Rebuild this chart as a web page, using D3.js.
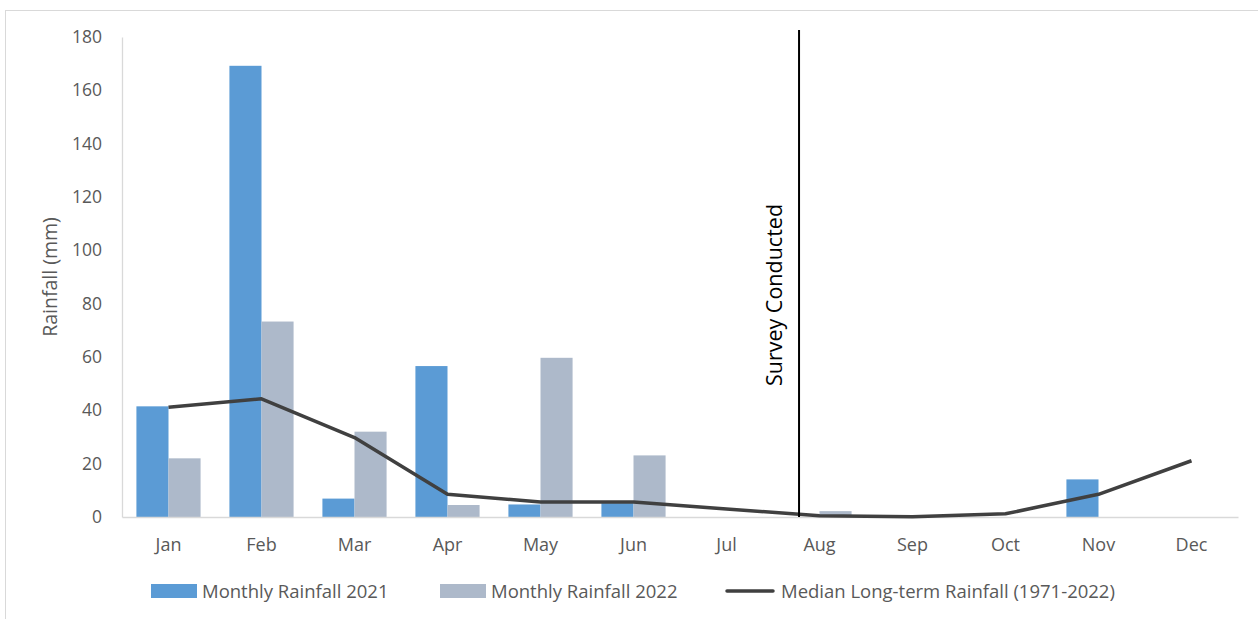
<!DOCTYPE html>
<html>
<head>
<meta charset="utf-8">
<script src="https://cdn.jsdelivr.net/npm/d3@7/dist/d3.min.js"></script>
<style>
  html, body { margin: 0; padding: 0; background: #fff; }
  svg { display: block; font-family: "Open Sans", "DejaVu Sans", sans-serif; }
</style>
</head>
<body>
<svg id="chart" width="1258" height="619"></svg>
<script>
const months = ["Jan","Feb","Mar","Apr","May","Jun","Jul","Aug","Sep","Oct","Nov","Dec"];
const rain2021 = [41.5, 169.2, 6.9, 56.6, 4.7, 5.2, 0, 0, 0, 0, 14.1, 0];
const rain2022 = [22.0, 73.3, 32.0, 4.5, 59.7, 23.1, 0, 2.2, 0, 0, 0, 0];
const medianLT = [41.2, 44.3, 29.8, 8.5, 5.6, 5.6, 3.0, 0.5, 0.1, 1.2, 8.5, 21.1];
const yTicks = [0, 20, 40, 60, 80, 100, 120, 140, 160, 180];
const seriesNames = ["Monthly Rainfall 2021", "Monthly Rainfall 2022", "Median Long-term Rainfall (1971-2022)"];
const surveyMonthPos = 7.78; // month index (Jan = 1) where survey line sits
const surveyLabel = "Survey Conducted";
const yTitle = "Rainfall (mm)";

const colors = { r21: "#5b9bd5", r22: "#adb9ca", med: "#404040" };
const textCol = "#595959";

const svg = d3.select("#chart");
const L = 122, R = 1238, T = 37, B = 517;

// outer chart border
svg.append("rect").attr("x", 5.5).attr("y", 10.5).attr("width", 1262).attr("height", 620)
  .attr("fill", "none").attr("stroke", "#d9d9d9").attr("stroke-width", 1);

const y = d3.scaleLinear().domain([0, 180]).range([B, T]);
const x0 = d3.scaleBand().domain(months).range([L, R]).paddingInner(0.31).paddingOuter(0.155);
const x1 = d3.scaleBand().domain(["r21", "r22"]).range([0, x0.bandwidth()]);
const xc = m => x0(m) + x0.bandwidth() / 2;
const xIdx = d3.scaleLinear().domain([0.5, 12.5]).range([L, R]);

// y axis
const yAxis = svg.append("g").attr("transform", `translate(${L},0)`)
  .call(d3.axisLeft(y).tickValues(yTicks).tickSize(0).tickPadding(20));
yAxis.select(".domain").attr("stroke", "#d9d9d9").attr("stroke-width", 1.3);
yAxis.selectAll("text").attr("fill", textCol).style("font-size", "17.5px")
  .style("font-family", "'Open Sans', sans-serif");

// bars
const data = months.map((m, i) => ({ m, r21: rain2021[i], r22: rain2022[i] }));
const g = svg.append("g");
["r21", "r22"].forEach(k => {
  g.selectAll(".b" + k).data(data).enter().append("rect")
    .attr("x", d => x0(d.m) + x1(k))
    .attr("y", d => y(d[k]))
    .attr("width", x1.bandwidth())
    .attr("height", d => B - y(d[k]))
    .attr("fill", colors[k]);
});

// x axis
const xAxis = svg.append("g").attr("transform", `translate(0,${B})`)
  .call(d3.axisBottom(x0).tickSize(0).tickPadding(21));
xAxis.select(".domain").attr("stroke", "#d9d9d9").attr("stroke-width", 1.3);
xAxis.selectAll("text").attr("fill", textCol).style("font-size", "18px")
  .style("font-family", "'Open Sans', sans-serif");

// median line
const line = d3.line().x((d, i) => xc(months[i])).y(d => y(d));
svg.append("path").datum(medianLT).attr("d", line)
  .attr("fill", "none").attr("stroke", colors.med).attr("stroke-width", 3.5)
  .attr("stroke-linejoin", "round");

// survey line
const sx = xIdx(surveyMonthPos);
svg.append("line").attr("x1", sx).attr("x2", sx).attr("y1", 30).attr("y2", B)
  .attr("stroke", "#000").attr("stroke-width", 2);
svg.append("text").attr("transform", `translate(${sx - 17},295) rotate(-90)`)
  .attr("text-anchor", "middle").attr("fill", "#000")
  .style("font-size", "21.5px").text(surveyLabel);

// y title
svg.append("text").attr("transform", `translate(57,277) rotate(-90)`)
  .attr("text-anchor", "middle").attr("fill", textCol)
  .style("font-size", "19.5px").text(yTitle);

// legend
const lg = svg.append("g");
const legendItems = [
  { x: 151, type: "rect", color: colors.r21, label: seriesNames[0] },
  { x: 440, type: "rect", color: colors.r22, label: seriesNames[1] },
  { x: 727, type: "line", color: colors.med, label: seriesNames[2] }
];
legendItems.forEach(it => {
  if (it.type === "rect") {
    lg.append("rect").attr("x", it.x).attr("y", 584).attr("width", 46).attr("height", 14).attr("fill", it.color);
  } else {
    lg.append("line").attr("x1", it.x).attr("x2", it.x + 46).attr("y1", 591).attr("y2", 591)
      .attr("stroke", it.color).attr("stroke-width", 3.5).attr("stroke-linecap", "round");
  }
  lg.append("text").attr("x", it.x + (it.type === "rect" ? 51 : 54)).attr("y", 597.5)
    .attr("fill", textCol).style("font-size", "18.5px").text(it.label);
});
</script>
</body>
</html>
